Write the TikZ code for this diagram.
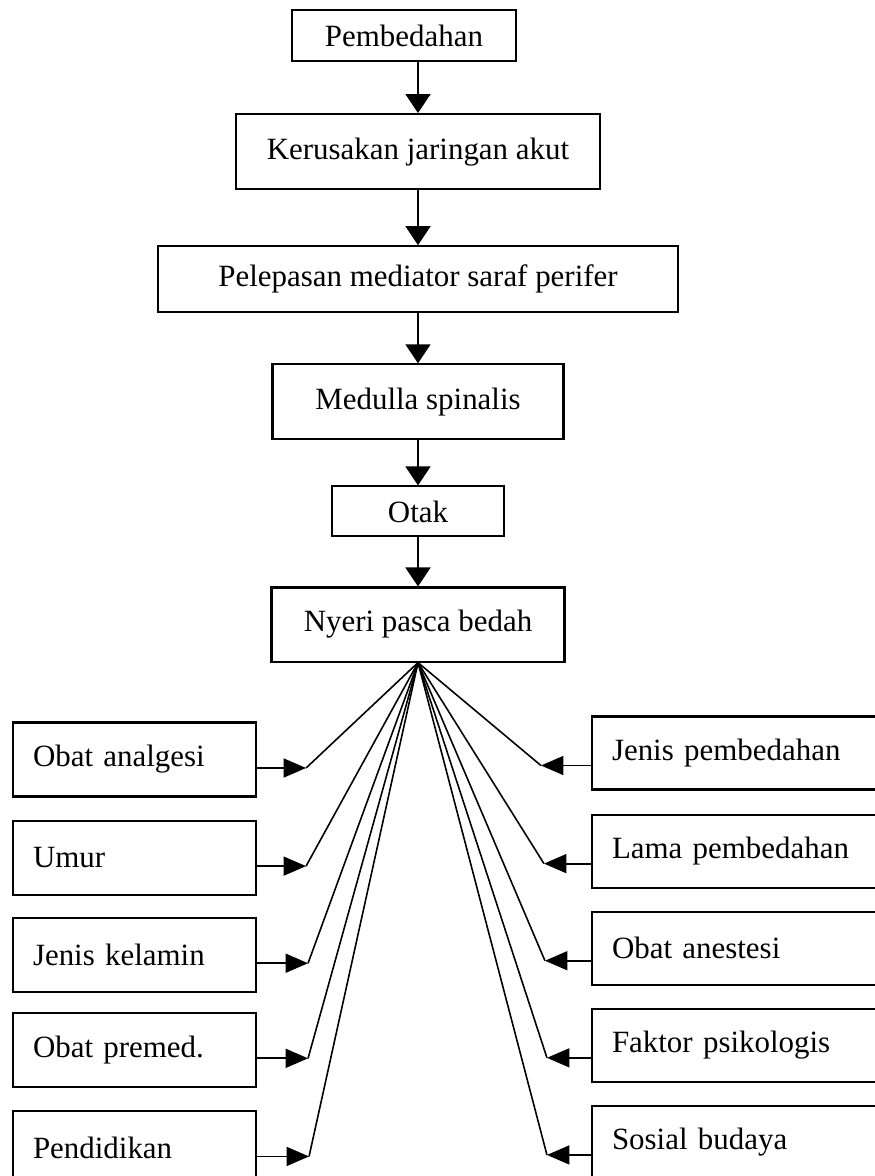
\documentclass[tikz,border=0pt]{standalone}
\usepackage{fontspec}
\setmainfont{Liberation Serif}
\usetikzlibrary{positioning, arrows.meta}

\begin{document}
\begin{tikzpicture}[>={Triangle[length=0.38cm, width=0.5cm]}, node distance=1cm]
    % Tyylit
    \tikzstyle{box}=[rectangle, draw=black, line width=1.2pt, inner sep=0pt, font=\fontsize{17.6pt}{21pt}\selectfont]
    \tikzstyle{lfactor}=[box, minimum height=1.48cm, text width=4.06cm, inner xsep=0.4cm, align=left]
    \tikzstyle{rfactor}=[box, minimum height=1.46cm, text width=5.2cm, inner xsep=0.4cm, align=left]
    \tikzstyle{arrow}=[->, line width=1pt]
    \tikzstyle{side}=[-{Triangle[length=0.45cm, width=0.38cm]}, line width=1pt]
    \tikzstyle{fan}=[line width=0.9pt]

    \path[use as bounding box, fill=white] (0,0) rectangle (17.48,-23.52);

    % Ketju (Solmut)
    \node[box, minimum width=4.48cm, minimum height=1.02cm] (pemb) at (8.08,-0.71) {Pembedahan};
    \node[box, minimum width=7.28cm, minimum height=1.5cm] (kerus) [below=1.02cm of pemb, xshift=0.28cm] {Kerusakan jaringan akut};
    \node[box, minimum width=10.4cm, minimum height=1.32cm] (pelep) [below=1.1cm of kerus] {Pelepasan mediator saraf perifer};
    \node[box, minimum width=5.82cm, minimum height=1.5cm] (medulla) [below=of pelep] {Medulla spinalis};
    \node[box, minimum width=3.44cm, minimum height=1cm] (otak) [below=0.9cm of medulla] {Otak};
    \node[box, minimum width=5.86cm, minimum height=1.48cm] (nyeri) [below=0.98cm of otak] {Nyeri pasca bedah};

    % Tekijät vasemmalla
    \node[lfactor] (l1) at (2.69,-15.19) {Obat analgesi};
    \node[lfactor] (l2) [below=0.44cm of l1] {Umur};
    \node[lfactor] (l3) [below=0.42cm of l2] {Jenis kelamin};
    \node[lfactor] (l4) [below=0.38cm of l3] {Obat premed.};
    \node[lfactor] (l5) [below=0.44cm of l4] {Pendidikan};

    % Tekijät oikealla
    \node[rfactor] (r1) at (14.84,-15.06) {Jenis pembedahan};
    \node[rfactor] (r2) [below=0.46cm of r1] {Lama pembedahan};
    \node[rfactor] (r3) [below=0.44cm of r2] {Obat anestesi};
    \node[rfactor] (r4) [below=0.44cm of r3] {Faktor psikologis};
    \node[rfactor] (r5) [below=0.44cm of r4] {Sosial budaya};

    % Nuolet ketjussa
    \draw[arrow] (kerus.north |- pemb.south) -- (kerus.north);
    \draw[arrow] (kerus) -- (pelep);
    \draw[arrow] (pelep) -- (medulla);
    \draw[arrow] (medulla) -- (otak);
    \draw[arrow] (otak) -- (nyeri);

    % Nuolet tekijöistä (vasen)
    \draw[side] ([yshift=-0.17cm]l1.east) -- ++(0.98,0) coordinate (l1k);
    \draw[side] ([yshift=-0.17cm]l2.east) -- ++(0.98,0) coordinate (l2k);
    \draw[side] ([yshift=-0.17cm]l3.east) -- ++(1.02,0) coordinate (l3k);
    \draw[side] ([yshift=-0.17cm]l4.east) -- ++(1.02,0) coordinate (l4k);
    \draw[side] ([yshift=-0.17cm]l5.east) -- ++(1.04,0) coordinate (l5k);
    \draw[fan] (nyeri.south) -- (l1k);
    \draw[fan] (nyeri.south) -- (l2k);
    \draw[fan] (nyeri.south) -- (l3k);
    \draw[fan] (nyeri.south) -- (l4k);
    \draw[fan] (nyeri.south) -- (l5k);

    % Nuolet tekijöistä (oikea)
    \draw[side] ([yshift=-0.25cm]r1.west) -- ++(-1.0,0) coordinate (r1k);
    \draw[side] ([yshift=-0.25cm]r2.west) -- ++(-0.94,0) coordinate (r2k);
    \draw[side] ([yshift=-0.25cm]r3.west) -- ++(-0.92,0) coordinate (r3k);
    \draw[side] ([yshift=-0.25cm]r4.west) -- ++(-0.88,0) coordinate (r4k);
    \draw[side] ([yshift=-0.25cm]r5.west) -- ++(-0.88,0) coordinate (r5k);
    \draw[fan] (nyeri.south) -- (r1k);
    \draw[fan] (nyeri.south) -- (r2k);
    \draw[fan] (nyeri.south) -- (r3k);
    \draw[fan] (nyeri.south) -- (r4k);
    \draw[fan] (nyeri.south) -- (r5k);

\end{tikzpicture}
\end{document}
